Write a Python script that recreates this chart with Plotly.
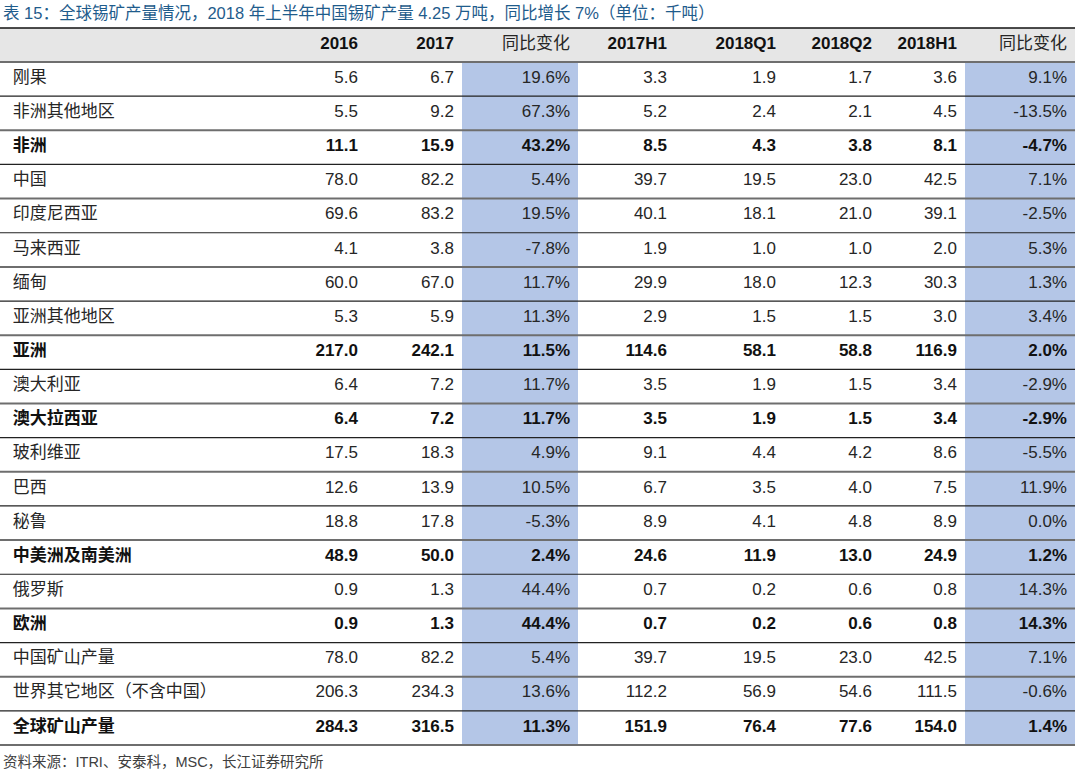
import plotly.graph_objects as go

# 数据（单位：千吨）
regions = ["刚果", "非洲其他地区", "非洲", "中国", "印度尼西亚", "马来西亚", "缅甸",
           "亚洲其他地区", "亚洲", "澳大利亚", "澳大拉西亚", "玻利维亚", "巴西", "秘鲁",
           "中美洲及南美洲", "俄罗斯", "欧洲", "中国矿山产量", "世界其它地区（不含中国）",
           "全球矿山产量"]
bold_rows = ["非洲", "亚洲", "澳大拉西亚", "中美洲及南美洲", "欧洲", "全球矿山产量"]

y2016 = [5.6, 5.5, 11.1, 78.0, 69.6, 4.1, 60.0, 5.3, 217.0, 6.4, 6.4, 17.5, 12.6, 18.8,
         48.9, 0.9, 0.9, 78.0, 206.3, 284.3]
y2017 = [6.7, 9.2, 15.9, 82.2, 83.2, 3.8, 67.0, 5.9, 242.1, 7.2, 7.2, 18.3, 13.9, 17.8,
         50.0, 1.3, 1.3, 82.2, 234.3, 316.5]
yoy_year = [19.6, 67.3, 43.2, 5.4, 19.5, -7.8, 11.7, 11.3, 11.5, 11.7, 11.7, 4.9, 10.5, -5.3,
            2.4, 44.4, 44.4, 5.4, 13.6, 11.3]
h1_2017 = [3.3, 5.2, 8.5, 39.7, 40.1, 1.9, 29.9, 2.9, 114.6, 3.5, 3.5, 9.1, 6.7, 8.9,
           24.6, 0.7, 0.7, 39.7, 112.2, 151.9]
q1_2018 = [1.9, 2.4, 4.3, 19.5, 18.1, 1.0, 18.0, 1.5, 58.1, 1.9, 1.9, 4.4, 3.5, 4.1,
           11.9, 0.2, 0.2, 19.5, 56.9, 76.4]
q2_2018 = [1.7, 2.1, 3.8, 23.0, 21.0, 1.0, 12.3, 1.5, 58.8, 1.5, 1.5, 4.2, 4.0, 4.8,
           13.0, 0.6, 0.6, 23.0, 54.6, 77.6]
h1_2018 = [3.6, 4.5, 8.1, 42.5, 39.1, 2.0, 30.3, 3.0, 116.9, 3.4, 3.4, 8.6, 7.5, 8.9,
           24.9, 0.8, 0.8, 42.5, 111.5, 154.0]
yoy_half = [9.1, -13.5, -4.7, 7.1, -2.5, 5.3, 1.3, 3.4, 2.0, -2.9, -2.9, -5.5, 11.9, 0.0,
            1.2, 14.3, 14.3, 7.1, -0.6, 1.4]

headers = ["", "2016", "2017", "同比变化", "2017H1", "2018Q1", "2018Q2", "2018H1", "同比变化"]

BLUE = "#b4c6e7"
HEAD = "#e6e6e6"
CLEAR = "rgba(0,0,0,0)"
FONT = "Liberation Sans, Arial, Noto Sans CJK SC"

W, H = 1080, 779
TOP, BOTTOM = 28, 34
HEAD_H = 34
ROW_H = (H - TOP - BOTTOM - HEAD_H) / len(regions)
COL_W = [270, 96, 96, 116, 97, 109, 96, 85, 110]
ALIGN = ["left"] + ["right"] * 8


def fmt(vals, pct=False):
    return [f"{v:.1f}%" if pct else f"{v:.1f}" for v in vals]


labels = ["\u00a0" + r for r in regions]
columns = [labels, fmt(y2016), fmt(y2017), fmt(yoy_year, True), fmt(h1_2017),
           fmt(q1_2018), fmt(q2_2018), fmt(h1_2018), fmt(yoy_half, True)]
ncol = len(columns)
n = len(regions)
is_bold = [r in bold_rows for r in regions]

# 普通行与加粗行分两层绘制（表格字体粗细只能按列设置）
normal_cols = [[("" if b else v) for v, b in zip(col, is_bold)] for col in columns]
bold_cols = [[(v if b else "") for v, b in zip(col, is_bold)] for col in columns]

fills = [[BLUE] * n if headers[c] == "同比变化" else ["white"] * n for c in range(ncol)]

base = go.Table(
    columnwidth=COL_W,
    header=dict(values=headers, fill_color=HEAD, height=HEAD_H, align=ALIGN,
                font=dict(family=FONT, size=17,
                          color=["#262626" if "变化" in h else "#111111" for h in headers],
                          weight=["normal" if "变化" in h else "bold" for h in headers]),
                line=dict(width=0)),
    cells=dict(values=normal_cols, fill_color=fills, height=ROW_H, align=ALIGN,
               font=dict(family=FONT, size=17, color="#262626"),
               line=dict(width=0)),
    domain=dict(x=[0, 1], y=[0, 1]),
)

overlay = go.Table(
    columnwidth=COL_W,
    header=dict(values=[""] * ncol, fill_color=CLEAR, height=HEAD_H, align=ALIGN,
                font=dict(family=FONT, size=17), line=dict(width=0)),
    cells=dict(values=bold_cols, fill_color=CLEAR, height=ROW_H, align=ALIGN,
               font=dict(family=FONT, size=17, color="#111111", weight="bold"),
               line=dict(width=0)),
    domain=dict(x=[0, 1], y=[0, 1]),
)

fig = go.Figure([base, overlay])

# 行分隔线
plot_h = H - TOP - BOTTOM
shapes = []
edges = [0, HEAD_H] + [HEAD_H + ROW_H * (i + 1) for i in range(n)]
for k, e in enumerate(edges):
    yp = 1 - e / plot_h
    if k == 0:
        col, w = "#111111", 1.5
    elif k % 2 == 1:
        col, w = "#6e6e6e", 2
    else:
        col, w = "#222222", 1.2
    shapes.append(dict(type="line", xref="paper", yref="paper", x0=0, x1=1,
                       y0=yp, y1=yp, line=dict(color=col, width=w)))

fig.update_layout(
    width=W, height=H,
    margin=dict(l=0, r=5, t=TOP, b=BOTTOM),
    paper_bgcolor="white",
    shapes=shapes,
    annotations=[
        dict(text="表 15：全球锡矿产量情况，2018 年上半年中国锡矿产量 4.25 万吨，同比增长 7%（单位：千吨）",
             xref="paper", yref="paper", x=0, y=1, xanchor="left", yanchor="bottom",
             yshift=4, xshift=1, showarrow=False,
             font=dict(family=FONT, size=16.5, color="#1f5c8c")),
        dict(text="资料来源：ITRI、安泰科，MSC，长江证券研究所",
             xref="paper", yref="paper", x=0, y=0, xanchor="left", yanchor="top",
             yshift=-7, xshift=1, showarrow=False,
             font=dict(family=FONT, size=14.5, color="#404040")),
    ],
)

# 页面默认 body 边距 8px，去掉以贴合画布
fig.write_html("out.html", config={"displayModeBar": False},
               post_script="document.body.style.margin='0px';")
